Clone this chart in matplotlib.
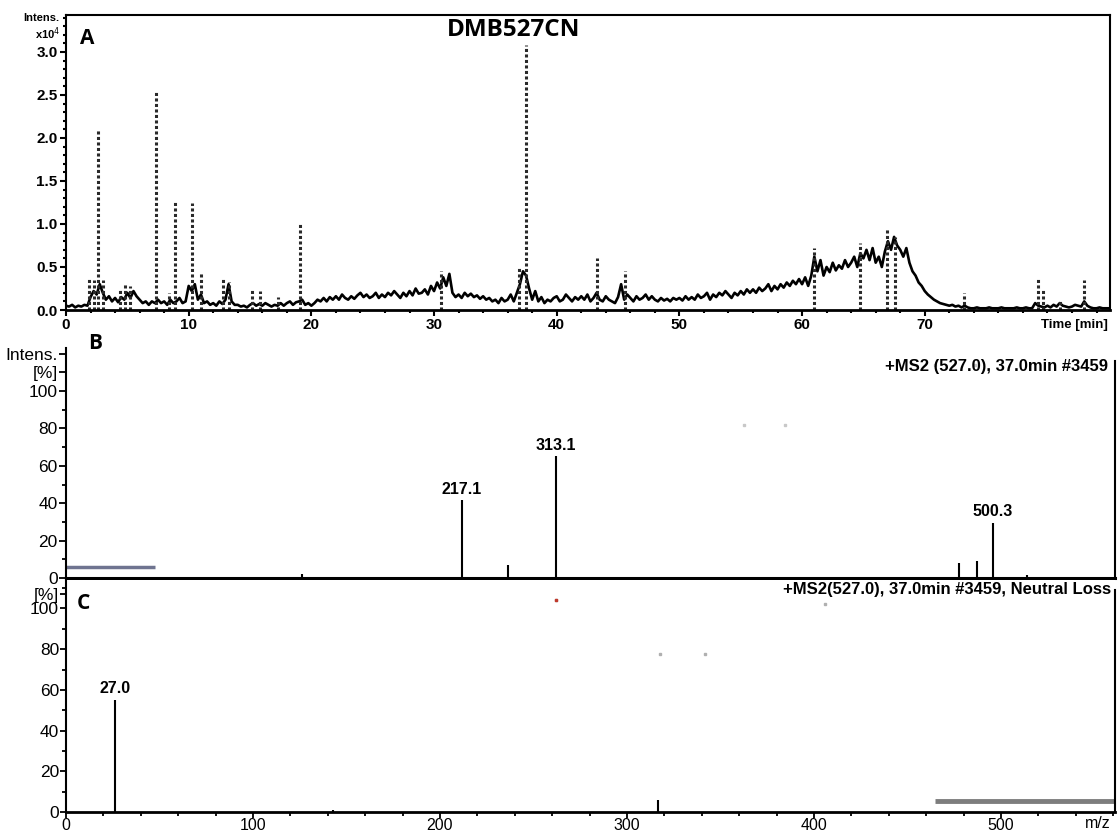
import matplotlib
matplotlib.use('Agg')
import matplotlib.pyplot as plt
from matplotlib.ticker import MultipleLocator
import numpy as np

plt.rcParams['font.family'] = ['Liberation Sans', 'DejaVu Sans']

# ---- Panel A: TIC trace, read every 0.25 min (intensity x10^4)
tic_step = 0.25
tic_intens = [
    .05, .04, .06, .03,  .05, .04, .06, .05,  .15, .22, .18, .30,  .20, .12, .16, .10,   # 0-3
    .14, .09, .15, .12,  .20, .14, .22, .16,  .12, .08, .10, .06,  .10, .08, .12, .08,   # 4-7
    .10, .06, .12, .08,  .10, .14, .08, .10,  .28, .22, .30, .12,  .18, .08, .10, .06,   # 8-11
    .08, .05, .10, .07,  .12, .30, .10, .06,  .06, .04, .05, .03,  .06, .08, .05, .07,   # 12-15
    .05, .08, .06, .04,  .06, .05, .08, .05,  .08, .10, .06, .09,  .10, .12, .06, .08,   # 16-19
    .05, .08, .12, .10,  .14, .10, .15, .12,  .16, .12, .18, .14,  .12, .16, .13, .17,   # 20-23
    .20, .15, .18, .14,  .16, .20, .14, .18,  .15, .20, .17, .22,  .18, .14, .20, .16,   # 24-27
    .22, .17, .25, .19,  .20, .24, .18, .28,  .22, .32, .25, .38,  .28, .42, .20, .15,   # 28-31
    .18, .14, .20, .16,  .19, .15, .17, .13,  .16, .12, .14, .10,  .12, .08, .14, .10,   # 32-35
    .12, .18, .10, .20,  .30, .45, .40, .25,  .12, .22, .10, .15,  .08, .12, .10, .14,   # 36-39
    .16, .10, .12, .18,  .14, .10, .15, .12,  .16, .12, .18, .10,  .14, .20, .12, .10,   # 40-43
    .16, .12, .10, .08,  .15, .30, .12, .18,  .14, .10, .16, .12,  .14, .18, .12, .16,   # 44-47
    .12, .10, .14, .11,  .13, .10, .14, .12,  .14, .11, .16, .12,  .15, .12, .18, .14,   # 48-51
    .16, .20, .12, .18,  .15, .20, .17, .22,  .18, .14, .20, .17,  .22, .18, .24, .20,   # 52-55
    .24, .20, .26, .22,  .25, .30, .22, .28,  .24, .30, .26, .32,  .28, .34, .30, .36,   # 56-59
    .30, .38, .28, .40,  .62, .45, .58, .40,  .50, .44, .55, .46,  .52, .48, .58, .50,   # 60-63
    .55, .62, .50, .66,  .60, .70, .58, .72,  .55, .62, .50, .68,  .80, .70, .85, .75,   # 64-67
    .70, .62, .72, .55,  .45, .40, .32, .28,  .22, .18, .15, .12,  .10, .08, .07, .06,   # 68-71
    .05, .06, .04, .05,  .03, .05, .03, .02,  .02, .03, .02, .02,  .02, .03, .02, .02,   # 72-75
    .02, .03, .02, .02,  .02, .02, .03, .02,  .02, .03, .02, .02,  .08, .05, .04, .03,   # 76-79
    .05, .03, .06, .04,  .08, .05, .04, .03,  .04, .06, .05, .04,  .10, .05, .03, .02,   # 80-83
    .02, .03, .02, .02,  .02,                                                           # 84-85
]
tic_time = np.arange(len(tic_intens)) * tic_step

# narrow peaks on top of the trace
spike_time = [1.9, 2.3, 2.6, 3.0, 4.4, 4.8, 5.2, 7.3, 8.4, 8.9, 10.3, 11.0, 12.8, 13.3,
              15.2, 15.8, 17.3, 19.1, 30.6, 36.9, 37.5, 43.3, 45.6, 61.0, 64.7, 66.9,
              67.6, 73.2, 79.2, 79.6, 81.0, 83.0]
spike_intens = [0.38, 0.35, 2.1, 0.35, 0.25, 0.3, 0.28, 2.56, 0.2, 1.28, 1.24, 0.43, 0.38, 0.33,
                0.23, 0.22, 0.15, 1.02, 0.45, 0.5, 3.08, 0.6, 0.45, 0.72, 0.78, 0.95,
                0.85, 0.2, 0.37, 0.25, 0.12, 0.35]

# ---- Panel B: MS2 spectrum (intensity %)
ms2_mz = [126, 211.8, 236.4, 262.0, 477.5, 487.2, 495.7, 514.0]
ms2_int = [2, 41.5, 7, 65, 8, 9, 29.5, 1.5]
ms2_labels = ['', '217.1', '', '313.1', '', '', '500.3', '']

# ---- Panel C: neutral loss spectrum (intensity %)
nl_mz = [26.2, 143.0, 316.6]
nl_int = [55, 1, 6]
nl_labels = ['27.0', '', '']

W, H = 1118, 834
fig = plt.figure(figsize=(W / 100, H / 100), dpi=100)

def frac(x0, y0, x1, y1):
    # pixel box -> figure fraction rect
    return [x0 / W, 1 - y1 / H, (x1 - x0) / W, (y1 - y0) / H]

ax_a = fig.add_axes(frac(66, 15, 1110, 310))
ax_b = fig.add_axes(frac(66, 348, 1115, 578))
ax_c = fig.add_axes(frac(66, 580, 1115, 812))

# ---------- A
ax_a.plot(tic_time, tic_intens, color='black', lw=1.9)
ax_a.vlines(spike_time, 0, spike_intens, colors='#2a2a2a', lw=2.2, linestyles=(0, (1, 0.8)))
ax_a.set_xlim(0, 85.1)
ax_a.set_ylim(0, 3.43)
ax_a.set_xticks(range(0, 80, 10))
ax_a.xaxis.set_minor_locator(MultipleLocator(2))
ax_a.set_yticks(np.arange(0, 3.01, 0.5))
ax_a.set_yticklabels(['0.0', '0.5', '1.0', '1.5', '2.0', '2.5', '3.0'])
ax_a.yaxis.set_minor_locator(MultipleLocator(0.1))
ax_a.tick_params(which='major', length=4, width=1.5, labelsize=11, pad=2)
ax_a.tick_params(which='minor', length=2.5, width=1.5)
for lab in ax_a.get_xticklabels() + ax_a.get_yticklabels():
    lab.set_fontweight('bold')
for s in ax_a.spines.values():
    s.set_linewidth(1.5)
ax_a.spines['bottom'].set_linewidth(2)
ax_a.text(82.2, -0.05, 'Time [min]', transform=ax_a.get_xaxis_transform(),
          ha='center', va='center', fontsize=9.5, fontweight='bold')
ax_a.text(-0.006, 0.99, 'Intens.', transform=ax_a.transAxes, ha='right', va='center', fontsize=8, fontweight='bold')
ax_a.text(-0.006, 0.935, 'x10$^4$', transform=ax_a.transAxes, ha='right', va='center', fontsize=8, fontweight='bold')
ax_a.text(0.02, 0.922, 'A', transform=ax_a.transAxes, ha='center', va='center',
          fontsize=15, fontweight='bold', family=['Open Sans', 'DejaVu Sans'])
ax_a.text(0.429, 0.949, 'DMB527CN', transform=ax_a.transAxes, ha='center', va='center',
          fontsize=17.5, fontweight='bold', family=['Open Sans', 'DejaVu Sans'])

# ---------- B
ax_b.vlines(ms2_mz, 0, ms2_int, colors='black', lw=1.5)
for mz, it, lab in zip(ms2_mz, ms2_int, ms2_labels):
    if lab:
        ax_b.text(mz, it + 2, lab, ha='center', va='bottom', fontsize=11.5, fontweight='bold')
ax_b.plot([0, 47.6], [5.9, 5.9], color='#6f7490', lw=2.5, solid_capstyle='butt')
ax_b.plot([362.6, 384.5, 465, 486], [82, 82, 113.7, 113.7], 's', color='#c8c8c8', ms=1.5)
ax_b.set_xlim(0, 561)
ax_b.set_ylim(0, 123)
ax_b.set_yticks([0, 20, 40, 60, 80, 100, 110, 120])
ax_b.set_yticklabels(['0', '20', '40', '60', '80', '100', '[%]', 'Intens.'])
ax_b.yaxis.set_minor_locator(MultipleLocator(10))
ax_b.set_xticks([])
ax_b.tick_params(which='major', length=5, width=1.3, labelsize=12.5, pad=1)
ax_b.tick_params(which='minor', length=3, width=1.3)
ax_b.spines['top'].set_visible(False)
ax_b.spines['right'].set_bounds(0, 116)
ax_b.spines['left'].set_linewidth(1.5)
ax_b.spines['right'].set_linewidth(1.5)
ax_b.spines['bottom'].set_linewidth(2.2)
ax_b.text(557, 113, '+MS2 (527.0), 37.0min #3459', ha='right', va='center',
          fontsize=12, fontweight='bold')
ax_b.text(0.028, 1.02, 'B', transform=ax_b.transAxes, ha='center', va='center',
          fontsize=15, fontweight='bold', family=['Open Sans', 'DejaVu Sans'])

# ---------- C
ax_c.vlines(nl_mz, 0, nl_int, colors='black', lw=1.5)
for mz, it, lab in zip(nl_mz, nl_int, nl_labels):
    if lab:
        ax_c.text(mz, it + 2, lab, ha='center', va='bottom', fontsize=11.5, fontweight='bold')
ax_c.plot([464.7, 561], [5.4, 5.4], color='#7d7d7d', lw=3.5, solid_capstyle='butt')
ax_c.plot([262, 406, 317.6, 341.7], [104.4, 102, 77.5, 77.5], 's', color='#b0b0b0', ms=1.5)
ax_c.plot([262], [104.4], 's', color='#c0392b', ms=1.5)
ax_c.set_xlim(0, 561)
ax_c.set_ylim(0, 114)
ax_c.set_xticks(range(0, 501, 100))
ax_c.xaxis.set_minor_locator(MultipleLocator(20))
ax_c.set_yticks([0, 20, 40, 60, 80, 100, 107])
ax_c.set_yticklabels(['0', '20', '40', '60', '80', '100', '[%]'])
ax_c.yaxis.set_minor_locator(MultipleLocator(10))
ax_c.tick_params(which='major', length=4, width=1.3, labelsize=12.5, pad=1)
ax_c.tick_params(axis='x', labelsize=11.5, pad=0)
ax_c.tick_params(which='minor', length=3, width=1.3)
ax_c.spines['top'].set_visible(False)
ax_c.spines['right'].set_bounds(0, 109)
for s in ax_c.spines.values():
    s.set_linewidth(1.5)
ax_c.spines['bottom'].set_linewidth(2)
ax_c.text(552, -0.05, 'm/z', transform=ax_c.get_xaxis_transform(), ha='center', va='center', fontsize=11.5)
ax_c.text(559, 109.3, '+MS2(527.0), 37.0min #3459, Neutral Loss', ha='right', va='center',
          fontsize=12, fontweight='bold')
ax_c.text(0.017, 0.90, 'C', transform=ax_c.transAxes, ha='center', va='center',
          fontsize=15, fontweight='bold', family=['Open Sans', 'DejaVu Sans'])

fig.savefig('out.png', dpi=100)
